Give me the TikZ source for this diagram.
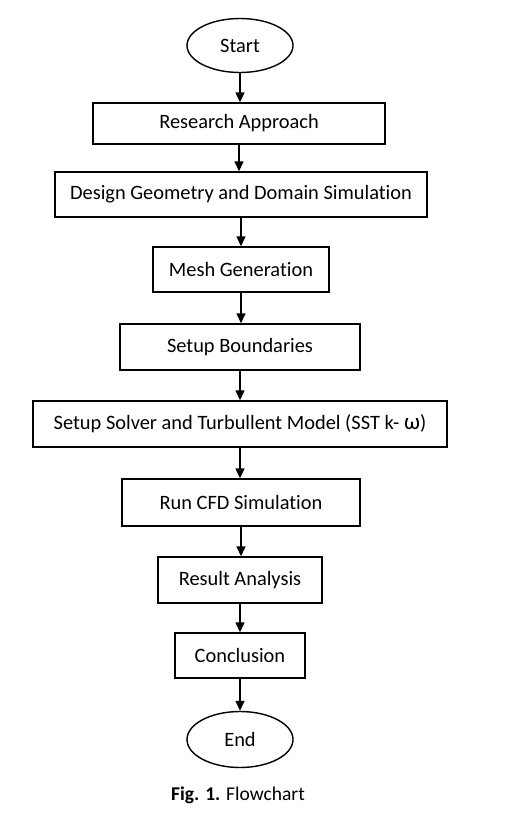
\documentclass[tikz,border=0pt]{standalone}
\usepackage{fontspec}
\setmainfont[RawFeature={-liga;-clig}]{Carlito}
\usetikzlibrary{shapes.geometric,arrows.meta}
\begin{document}
\begin{tikzpicture}[x=1pt,y=1pt,
  every node/.style={font=\fontsize{20.4}{24}\selectfont, inner sep=0pt},
  stepbox/.style={draw, line width=1.4pt, rectangle},
  termbox/.style={draw, line width=1.4pt, ellipse, minimum width=106pt, minimum height=54pt},
  arr/.style={line width=1.4pt, -{Triangle[width=9pt,length=10pt]}}]
\useasboundingbox (0,0) rectangle (514,-822);
\node[termbox] (start) at (240,-45.5) {Start};
\node[stepbox, minimum width=292pt, minimum height=41pt] (ra) at (239,-123.5) {Research Approach};
\node[stepbox, minimum width=372pt, minimum height=45pt] (dg) at (241,-194.5) {Design Geometry and Domain Simulation};
\node[stepbox, minimum width=176pt, minimum height=45pt] (mg) at (241,-269.5) {Mesh Generation};
\node[stepbox, minimum width=240pt, minimum height=46pt] (sb) at (240,-347) {Setup Boundaries};
\node[stepbox, minimum width=414pt, minimum height=46pt] (ss) at (240,-424) {Setup Solver and Turbullent Model (SST k- {\fontsize{23}{24}\selectfont ω})};
\node[stepbox, minimum width=238pt, minimum height=47pt] (cfd) at (241,-502.5) {Run CFD Simulation};
\node[stepbox, minimum width=164pt, minimum height=46pt] (res) at (240,-580) {Result Analysis};
\node[stepbox, minimum width=130pt, minimum height=45pt] (con) at (240,-655.5) {Conclusion};
\node[termbox, minimum height=56pt] (end) at (240,-739.5) {End};
\node[font=\fontsize{19.5}{23}\selectfont] (cap) at (238,-795) {\textbf{Fig. 1.} Flowchart};
\foreach \a/\b in {start/ra, ra/dg, dg/mg, mg/sb, sb/ss, ss/cfd, cfd/res, res/con, con/end}
  \draw[arr] (\a.south) -- (\a.south |- \b.north);
\end{tikzpicture}
\end{document}
